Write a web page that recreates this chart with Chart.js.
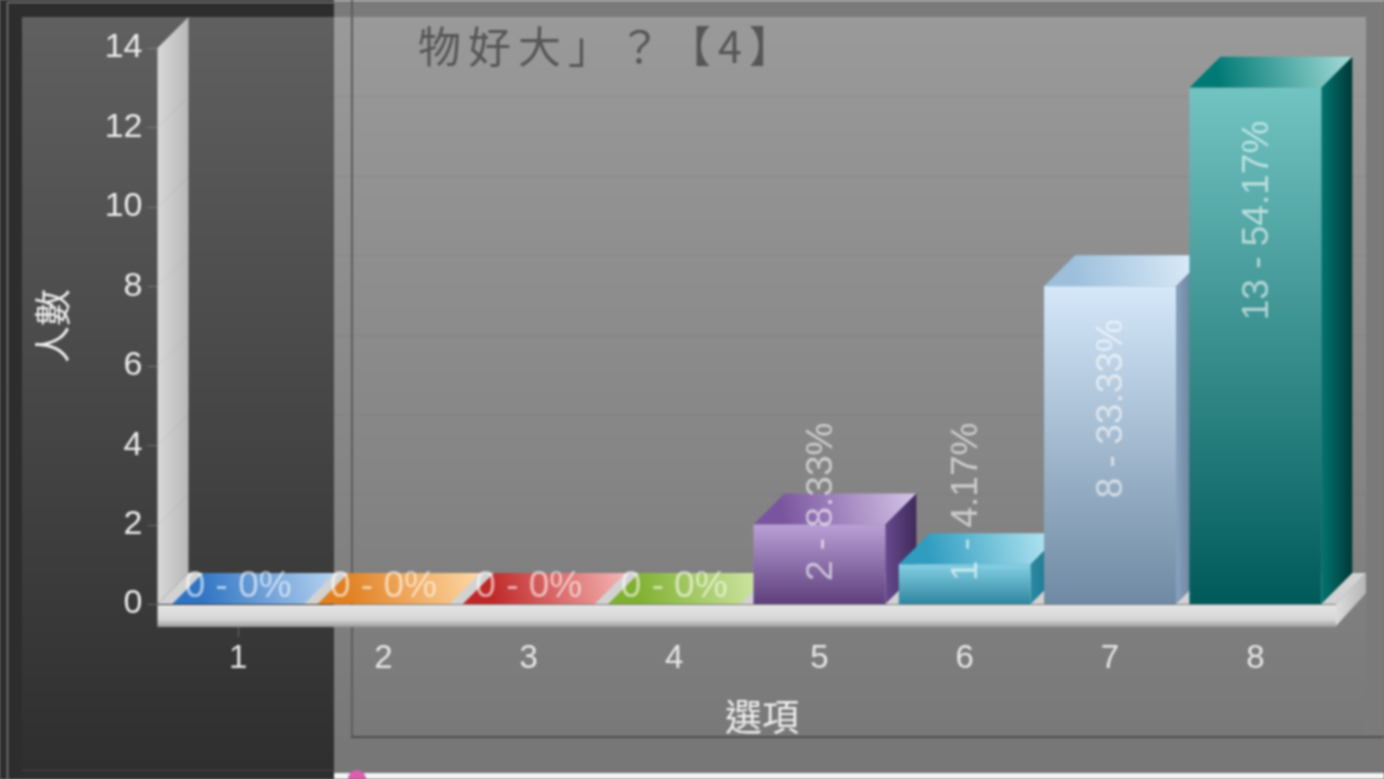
<!DOCTYPE html>
<html><head><meta charset="utf-8">
<style>html,body{margin:0;padding:0;background:#777;overflow:hidden}canvas{display:block;filter:blur(.8px)}</style>
<script src="https://cdn.jsdelivr.net/npm/chart.js@4/dist/chart.umd.min.js"></script>
</head><body><canvas id="c" width="1384" height="779"></canvas>
<script>
const categories = ['1','2','3','4','5','6','7','8'];
const counts = [0,0,0,0,2,1,8,13];
const percents = ['0%','0%','0%','0%','8.33%','4.17%','33.33%','54.17%'];
const yTicks = [0,2,4,6,8,10,12,14];
const titleText = '物好大」？【4】';
const yTitle = '人數';
const xTitle = '選項';
const frontColors = [['#6fa5e0','#2f74c4'],['#f5b870','#e08020'],['#ee8f8f','#c02828'],['#c5e29a','#7fb030'],['#b9a0d6','#5e3f7c'],['#85d0e4','#2f86a0'],['#d5e8fa','#6f8aa3'],['#72c4c2','#005a5a']];
const topColors = [['#2f74c4','#b8d4f0'],['#e08020','#ffd9a8'],['#c02828','#f5b5b5'],['#7fb030','#d8ecb0'],['#7a559f','#d5c5e8'],['#2f9cc0','#c0ecf6'],['#9dbfdc','#e2f0fb'],['#007a75','#a5dcd8']];
const sideColors = [['#2f74c4','#245a99'],['#e08020','#a85f14'],['#c02828','#8e1c1c'],['#7fb030','#5f8522'],['#66498e','#3f2a5a'],['#2a8aa5','#1c6a80'],['#87a2c0','#4f6478'],['#007570','#003838']];

const DEPTH = 31;
const SANS = '"Liberation Sans", Arial, sans-serif';
const CJK = '"Noto Sans CJK TC", sans-serif';

function poly(ctx, pts, fill){
  ctx.beginPath();
  pts.forEach((p,i)=> i ? ctx.lineTo(p[0],p[1]) : ctx.moveTo(p[0],p[1]));
  ctx.closePath(); ctx.fillStyle = fill; ctx.fill();
}
function grad(ctx,x0,y0,x1,y1,stops){
  const g = ctx.createLinearGradient(x0,y0,x1,y1);
  stops.forEach((s,i)=> g.addColorStop(i/(stops.length-1), s));
  return g;
}
function rect(ctx,x,y,w,h,f){ ctx.fillStyle=f; ctx.fillRect(x,y,w,h); }

const scene = {
  id:'scene',
  beforeDraw(chart){
    const c = chart.ctx, H = chart.height, W = chart.width;
    rect(c,0,0,W,H,'#7a7a7a');
    rect(c,0,0,334,H,'#2d2d2d');
    rect(c,22,17,312,H-17,grad(c,0,17,0,H,['#606060','#2e2e2e']));
    rect(c,334,17,1032,720,grad(c,0,17,0,737,['#9a9a9a','#797979']));
    rect(c,334,737,1050,36,'#777777');
    rect(c,334,0,1050,1,'#dddddd');
    rect(c,334,773,1050,6,'#f4f4f4');
    rect(c,351,0,2,737,'#5c5c5c');
    rect(c,351,736,1033,2,'#4e4e4e');
    c.strokeStyle='rgba(190,190,190,.75)'; c.lineWidth=1;
    c.beginPath(); c.moveTo(7.5,779); c.lineTo(7.5,2.5); c.lineTo(334,2.5); c.stroke();
    rect(c,22,770,312,1,'rgba(255,255,255,.12)');
    c.beginPath(); c.arc(357,779,9,0,Math.PI*2); c.fillStyle='#dc5fae'; c.fill();
  },
  beforeDatasetsDraw(chart){
    const c = chart.ctx, {x,y} = chart.scales, a = chart.chartArea;
    const y0 = a.bottom, top = a.top, L = a.left-8, R = a.right+8;
    poly(c,[[L,y0],[L,top],[L+DEPTH,top-DEPTH],[L+DEPTH,y0-DEPTH]],grad(c,L,0,L+DEPTH,0,['#d8d8d8','#b8b8b8']));
    c.lineWidth=1;
    yTicks.forEach(v=>{
      const py = Math.round(y.getPixelForValue(v))+.5;
      c.strokeStyle='rgba(60,60,60,.09)';
      if(v>0 && v<14){
        c.beginPath(); c.moveTo(L,py); c.lineTo(L+DEPTH,py-DEPTH); c.lineTo(R+DEPTH-1,py-DEPTH); c.stroke();
      }
      c.strokeStyle='rgba(210,210,210,.3)';
      c.beginPath(); c.moveTo(L-10,py); c.lineTo(L,py); c.stroke();
    });
    poly(c,[[L,y0],[L+DEPTH,y0-DEPTH],[R+DEPTH-1,y0-DEPTH],[R,y0]],'#d2d2d2');
    poly(c,[[R,y0],[R+DEPTH-1,y0-DEPTH],[R+DEPTH-1,y0-DEPTH+20],[R,y0+22]],grad(c,R,0,R+DEPTH,0,['#dcdcdc','#b4b4b4']));
    rect(c,L,y0+1,R-L,22,grad(c,0,y0+1,0,y0+23,['#e4e4e4','#dedede','#d4d4d4','#9a9a9a']));
    c.strokeStyle='rgba(210,210,210,.3)';
    const tx = Math.round(x.getPixelForValue(0))+.5;
    c.beginPath(); c.moveTo(tx,y0+23); c.lineTo(tx,y0+33); c.stroke();
    const meta = chart.getDatasetMeta(0);
    meta.data.forEach((b,i)=>{
      const hw = b.width/2, l = b.x-hw, r = b.x+hw, t = b.y;
      poly(c,[[l,t],[l+DEPTH,t-DEPTH],[r+DEPTH,t-DEPTH],[r,t]],grad(c,l+DEPTH,t,r+DEPTH,t-DEPTH,topColors[i]));
      if(counts[i]>0) poly(c,[[r,t],[r+DEPTH,t-DEPTH],[r+DEPTH,y0-DEPTH],[r,y0]],grad(c,r,0,r+DEPTH,0,sideColors[i]));
    });
  },
  afterDatasetsDraw(chart){
    const c = chart.ctx, meta = chart.getDatasetMeta(0), y0 = chart.chartArea.bottom;
    c.save();
    c.fillStyle='rgba(255,255,255,.58)';
    c.font='37px '+SANS;
    meta.data.forEach((b,i)=>{
      const s = counts[i]+' - '+percents[i];
      if(counts[i]===0){
        c.textAlign='center'; c.textBaseline='middle';
        c.fillText(s,b.x,y0-17);
      } else {
        const w = c.measureText(s).width;
        const base = w+b.y+33 > y0-23 ? y0-23 : b.y+33+w;
        c.save();
        c.translate(b.x+2,base);
        c.rotate(-Math.PI/2);
        c.textAlign='left'; c.textBaseline='middle';
        c.fillText(s,0,0);
        c.restore();
      }
    });
    c.restore();
  },
  afterDraw(chart){
    const c = chart.ctx;
    c.save();
    c.fillStyle='#565656';
    c.font='400 43px '+CJK;
    c.letterSpacing='7px';
    c.textAlign='left'; c.textBaseline='middle';
    c.fillText(titleText,418,47);
    c.letterSpacing='0px';
    c.fillStyle='#eeeeee';
    c.font='37px '+CJK;
    c.textAlign='center';
    c.fillText(xTitle,762,717);
    c.restore();
  }
};

new Chart(document.getElementById('c'),{
  type:'bar',
  data:{labels:categories,datasets:[{
    data:counts,
    barPercentage:.908,
    categoryPercentage:1,
    borderWidth:0,
    backgroundColor(ctx){
      const ch = ctx.chart, s = ch.scales.y;
      if(ctx.type!=='data' || !s) return '#888888';
      const t = s.getPixelForValue(counts[ctx.dataIndex]), b = s.getPixelForValue(0);
      if(!Number.isFinite(t) || !Number.isFinite(b)) return '#888888';
      return grad(ch.ctx,0,t,0,b,frontColors[ctx.dataIndex]);
    }
  }]},
  plugins:[scene],
  options:{
    responsive:false,animation:false,
    devicePixelRatio:1,
    layout:{padding:{top:48,right:56,left:0,bottom:0}},
    plugins:{legend:{display:false},tooltip:{enabled:false},title:{display:false}},
    scales:{
      x:{
        grid:{display:false,drawTicks:false},border:{display:false},
        ticks:{color:'#e6e6e6',font:{family:SANS,size:33},padding:35,maxRotation:0},
        afterFit(a){a.height=175;}
      },
      y:{
        min:0,max:14,
        grid:{display:false,drawTicks:false},border:{display:false},
        ticks:{stepSize:2,color:'#ececec',font:{family:SANS,size:34},padding:23},
        title:{display:true,text:yTitle,color:'#eeeeee',font:{family:CJK,size:37},padding:{top:31,bottom:0}},
        afterFit(a){a.width=165.5;}
      }
    }
  }
});
</script></body></html>
